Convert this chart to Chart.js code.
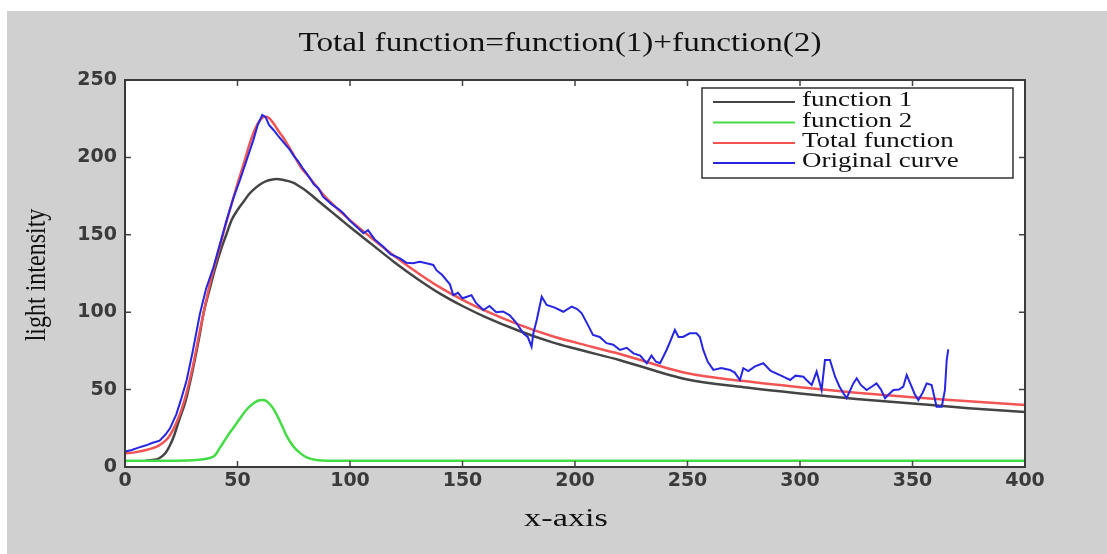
<!DOCTYPE html>
<html>
<head>
<meta charset="utf-8">
<script src="https://cdn.jsdelivr.net/npm/chart.js@4.4.1/dist/chart.umd.min.js"></script>
<style>
  html, body { margin: 0; padding: 0; background: #fff; }
</style>
</head>
<body>
<canvas id="myChart" width="1107" height="554"></canvas>
<script>
const titleText = "Total function=function(1)+function(2)";
const xLabel = "x-axis";
const yLabel = "light intensity";
const xTickValues = [0, 50, 100, 150, 200, 250, 300, 350, 400];
const yTickValues = [0, 50, 100, 150, 200, 250];
const seriesNames = ["function 1", "function 2", "Total function", "Original curve"];
const seriesColors = ["#444444", "#44dc44", "#f25454", "#2626e2"];

// function 1 (black)
const f1X = [9, 12, 15, 18, 20, 22, 24, 27, 30, 33, 35, 38, 40, 43, 45, 47.4, 50, 53, 55, 57, 60, 63, 65, 67.4, 70, 75, 77.8, 80, 85, 90, 95, 100, 110, 120, 130, 140, 150, 160, 175, 190, 200, 220, 250, 275, 300, 325, 350, 375, 400];
const f1Y = [4, 4.5, 5.5, 9, 14, 21, 30, 43, 62, 84, 100, 117, 128, 142, 150, 159.6, 166, 172, 176, 179, 182.5, 184.8, 185.6, 186, 185.5, 183.5, 181, 179, 173, 167, 161, 155, 143.5, 132, 121.5, 112, 104, 97, 88, 80.5, 76.5, 69, 56.5, 51.5, 47.5, 44, 41, 38, 35.5];

// function 2 (green)
const f2X = [0, 10, 20, 30, 35, 38, 40, 42, 44, 46, 50, 54, 57, 59, 61, 63, 65, 67, 70, 72, 75, 78, 81, 85, 90, 100, 200, 300, 400];
const f2Y = [4, 4, 4, 4.3, 5, 6, 7.5, 12, 16.5, 21, 29, 37, 41, 42.8, 43.3, 42.5, 39.5, 35, 26, 19.6, 13, 8.8, 6, 4.5, 4, 4, 4, 4, 4];

// total function (red)
const totalX = [0, 5, 9, 12, 15, 18, 20, 23, 26, 30, 33, 35, 38, 40, 43, 45, 48, 50, 53, 55, 58, 60, 62, 64, 66, 68, 70, 74, 78, 82, 85, 90, 95, 100, 110, 120, 130, 140, 150, 160, 175, 190, 200, 220, 250, 275, 300, 325, 350, 375, 400];
const totalY = [8.8, 9.6, 10.8, 12, 13.8, 17, 20.5, 29, 41, 64, 86, 100, 120, 131, 147, 158, 173, 183, 197, 207, 219, 224, 226.5, 225.5, 222, 217.5, 213.5, 204, 194, 187, 181.5, 173, 166, 159.5, 147.5, 136, 125.5, 116, 108, 101, 92, 84.5, 80.5, 73, 60.5, 55.5, 51.5, 48, 45, 42.5, 40];

// original curve (blue)
const origX = [0, 3, 6, 9.4, 12, 15.4, 18, 20, 22.8, 25, 27.4, 30, 33.3, 36, 39.3, 42, 45.2, 48, 51.1, 54, 57, 59, 61, 62.5, 64, 66, 68, 70, 73.3, 75, 77, 79, 80.7, 84, 86, 88, 92, 95, 97, 100, 103, 106, 108, 111, 114.8, 118, 122.2, 125, 128, 131, 134, 137, 138.5, 141, 144.4, 145.9, 148, 150, 152, 154, 156, 159.3, 162, 165, 168, 171, 174, 177, 179, 180.7, 181.5, 183, 185.2, 187.4, 191, 194.8, 198.5, 201, 203, 206, 208, 211, 214, 217, 220, 223, 226, 229, 231.9, 234, 236, 237.8, 240.7, 242, 244.4, 246, 248, 251, 254, 255.5, 257, 259, 261.5, 265, 268.9, 271, 273.3, 274.8, 277, 280, 283.7, 287, 291.1, 293, 295.6, 298, 301.5, 303, 305.2, 307.4, 309.6, 311.1, 313.3, 315.6, 317.5, 319.3, 320.7, 323.7, 325.2, 327, 329.6, 332, 334, 336, 337.8, 339.5, 341.5, 344, 345.9, 347.4, 349.6, 351, 352.6, 354.5, 356.3, 358.5, 360.7, 363, 364.4, 365.2, 365.9];
const origY = [10, 11, 12.5, 14, 15.5, 17, 21, 25, 34, 44, 56, 74, 99, 115, 129, 143, 159.6, 173, 185.4, 198, 211, 221, 227.4, 226, 221, 217.7, 214, 210.5, 204.8, 201, 197.5, 193, 189.7, 182.5, 180, 174.6, 169.5, 166.5, 164, 159, 155, 151, 153, 147, 142.3, 137.5, 134.8, 132, 131.6, 132.5, 131.6, 130.5, 127, 124, 118, 111, 112.5, 109, 110, 111, 106, 101.4, 104, 100, 100.5, 98, 93, 86.4, 84, 77.7, 86.4, 95, 110, 104.7, 103, 100.3, 103.6, 102, 99.3, 91, 85.3, 84, 80, 79, 75.6, 77, 73.4, 72, 67, 72, 68, 67, 75.6, 80, 88.5, 84, 84, 86.4, 86.4, 84, 75.6, 68, 62.7, 64, 62.7, 61, 56.2, 63.8, 62, 65, 67, 62, 59.4, 58, 56.2, 59, 58.3, 56, 53, 61.6, 49.7, 69.1, 69.1, 58.3, 52, 47.6, 44.4, 54, 57.3, 53, 49.7, 52, 54, 50, 44.4, 47, 49.7, 50, 51.9, 59.4, 51.9, 47, 43.3, 48, 54, 53, 39, 39, 49.7, 69.1, 76];

function toPoints(xs, ys) {
  return xs.map((x, i) => ({ x: x, y: ys[i] }));
}

function stretchedText(ctx, text, x, y, font, sx, align) {
  ctx.save();
  ctx.translate(x, y);
  ctx.scale(sx, 1);
  ctx.font = font;
  ctx.textAlign = align || "center";
  ctx.textBaseline = "middle";
  ctx.fillText(text, 0, 0);
  ctx.restore();
}

const figureDecor = {
  id: "figureDecor",
  beforeDraw(chart) {
    const ctx = chart.ctx;
    const a = chart.chartArea;
    ctx.save();
    ctx.fillStyle = "#ffffff";
    ctx.fillRect(0, 0, chart.width, chart.height);
    ctx.fillStyle = "#d0d0d0";
    ctx.fillRect(7, 11, chart.width - 7, chart.height - 11);
    ctx.fillStyle = "#ffffff";
    ctx.fillRect(a.left, a.top, a.right - a.left, a.bottom - a.top);
    ctx.restore();
  },
  afterDatasetsDraw(chart) {
    const ctx = chart.ctx;
    const a = chart.chartArea;
    const xs = chart.scales.x;
    const ys = chart.scales.y;
    ctx.save();
    // inward ticks on all four sides
    ctx.strokeStyle = "#444";
    ctx.lineWidth = 1.5;
    ctx.beginPath();
    xTickValues.forEach((v) => {
      const px = xs.getPixelForValue(v);
      ctx.moveTo(px, a.bottom);
      ctx.lineTo(px, a.bottom - 6);
      ctx.moveTo(px, a.top);
      ctx.lineTo(px, a.top + 6);
    });
    yTickValues.forEach((v) => {
      const py = ys.getPixelForValue(v);
      ctx.moveTo(a.left, py);
      ctx.lineTo(a.left + 6, py);
      ctx.moveTo(a.right, py);
      ctx.lineTo(a.right - 6, py);
    });
    ctx.stroke();
    // box
    ctx.strokeStyle = "#3a3a3a";
    ctx.lineWidth = 2;
    ctx.strokeRect(a.left, a.top, a.right - a.left, a.bottom - a.top);

    // legend
    const bx = 702, by = 88, bw = 311, bh = 90;
    ctx.fillStyle = "#ffffff";
    ctx.fillRect(bx, by, bw, bh);
    ctx.strokeStyle = "#333";
    ctx.lineWidth = 1.5;
    ctx.strokeRect(bx, by, bw, bh);
    const rows = [102, 122.5, 143, 163];
    chart.data.datasets.forEach((ds, i) => {
      ctx.strokeStyle = ds.borderColor;
      ctx.lineWidth = 2;
      ctx.beginPath();
      ctx.moveTo(713, rows[i]);
      ctx.lineTo(795, rows[i]);
      ctx.stroke();
      ctx.fillStyle = "#111";
      stretchedText(ctx, ds.label, 802, rows[i] - 1, "20px 'Liberation Serif'", 1.35, "left");
    });
    ctx.restore();
  },
  afterDraw(chart) {
    const ctx = chart.ctx;
    ctx.save();
    ctx.fillStyle = "#111";
    stretchedText(ctx, titleText, 560, 44, "27px 'Liberation Serif'", 1.23);
    stretchedText(ctx, xLabel, 566, 519, "26px 'Liberation Serif'", 1.32);
    // y label, rotated
    ctx.translate(37, 275);
    ctx.rotate(-Math.PI / 2);
    ctx.scale(1, 1.25);
    ctx.font = "24px 'Liberation Serif'";
    ctx.textAlign = "center";
    ctx.textBaseline = "middle";
    ctx.fillText(yLabel, 0, 0);
    ctx.restore();
  }
};

function initChart(chart) {
  const data = {
    datasets: [
      {
        label: seriesNames[0],
        data: toPoints(f1X, f1Y),
        borderColor: seriesColors[0],
        borderWidth: 2.5,
        cubicInterpolationMode: "monotone",
        order: 3,
      },
      {
        label: seriesNames[1],
        data: toPoints(f2X, f2Y),
        borderColor: seriesColors[1],
        borderWidth: 2.5,
        cubicInterpolationMode: "monotone",
        order: 2,
      },
      {
        label: seriesNames[2],
        data: toPoints(totalX, totalY),
        borderColor: seriesColors[2],
        borderWidth: 2.5,
        cubicInterpolationMode: "monotone",
        order: 1,
      },
      {
        label: seriesNames[3],
        data: toPoints(origX, origY),
        borderColor: seriesColors[3],
        borderWidth: 2,
        order: 0,
      },
    ],
  };

  const tickFont = { family: "'DejaVu Sans'", size: 19, weight: "bold" };

  const config = {
    type: "line",
    data: data,
    options: {
      responsive: false,
      animation: false,
      layout: { padding: { top: 80, right: 82, left: 0, bottom: 0 } },
      elements: { point: { radius: 0 }, line: { fill: false } },
      plugins: {
        legend: { display: false },
        title: { display: false },
        tooltip: { enabled: false },
      },
      scales: {
        x: {
          type: "linear",
          min: 0,
          max: 400,
          grid: { display: false, drawTicks: false },
          border: { display: false },
          ticks: { color: "#3a3a3a", font: tickFont, padding: 3, maxRotation: 0 },
          afterBuildTicks: (scale) => {
            scale.ticks = xTickValues.map((v) => ({ value: v }));
          },
          afterFit: (scale) => {
            scale.height = 87;
          },
        },
        y: {
          type: "linear",
          min: 0,
          max: 250,
          grid: { display: false, drawTicks: false },
          border: { display: false },
          ticks: { color: "#3a3a3a", font: tickFont, padding: 8 },
          afterBuildTicks: (scale) => {
            scale.ticks = yTickValues.map((v) => ({ value: v }));
          },
          afterFit: (scale) => {
            scale.width = 125;
          },
        },
      },
    },
    plugins: [figureDecor],
  };

  return new Chart(chart, config);
}

document.addEventListener("DOMContentLoaded", () => {
  initChart(document.querySelector("#myChart"));
});
</script>
</body>
</html>
